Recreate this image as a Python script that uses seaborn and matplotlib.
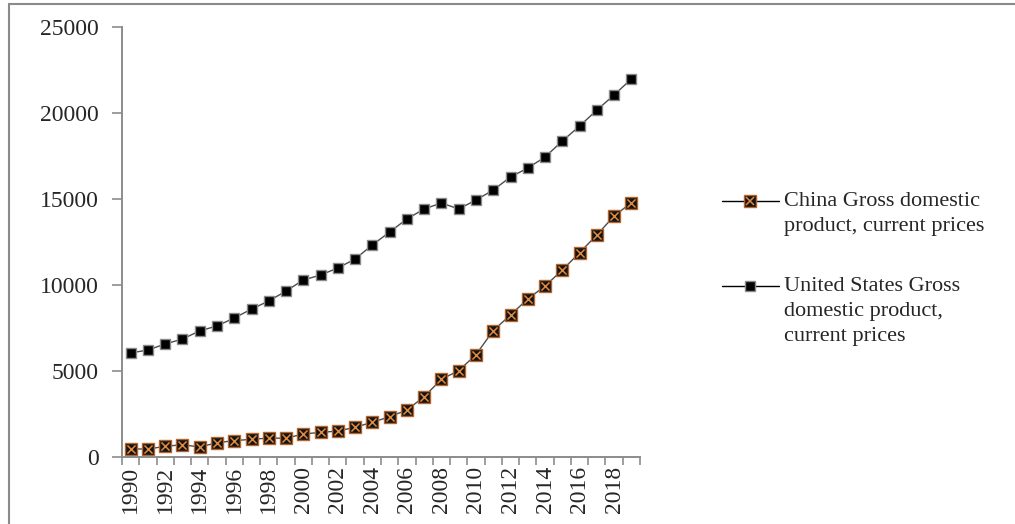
import numpy as np
import pandas as pd
import matplotlib
matplotlib.use("Agg")
import matplotlib.pyplot as plt
import seaborn as sns
from matplotlib.lines import Line2D
from matplotlib.patches import Rectangle
from matplotlib.legend_handler import HandlerLine2D

# Gross domestic product, current prices (billions of US dollars)
years = list(range(1990, 2020))
china_gdp = [465, 465, 620, 715, 580, 830, 950, 1030, 1100, 1090,
             1340, 1430, 1510, 1730, 2020, 2340, 2730, 3510, 4520, 5020,
             5950, 7350, 8260, 9190, 9940, 10870, 11880, 12910, 14010, 14790]
us_gdp = [6050, 6220, 6570, 6860, 7330, 7620, 8080, 8600, 9070, 9650,
          10290, 10580, 10990, 11510, 12330, 13080, 13840, 14420, 14770, 14420,
          14940, 15520, 16280, 16800, 17440, 18370, 19240, 20170, 21050, 21980]
series_labels = ["China Gross domestic\nproduct, current prices",
                 "United States Gross\ndomestic product,\ncurrent prices"]
y_ticks = [0, 5000, 10000, 15000, 20000, 25000]
x_label_years = list(range(1990, 2019, 2))

df = pd.DataFrame({"year": years, "china": china_gdp, "us": us_gdp})

sns.set_theme(style="white")
plt.rcParams["font.family"] = ["Liberation Serif", "DejaVu Serif"]

LINE_C = "#4d4d4d"
ORANGE = "#e0893a"
BROWN = "#b5652a"
TEXT_C = "#262626"

fig = plt.figure(figsize=(10.15, 5.24), dpi=100)
ax = fig.add_axes([122 / 1015, 1 - 457 / 524, (640 - 122) / 1015, (457 - 27) / 524])

# United States series: black squares with a grey rim
sns.lineplot(data=df, x="year", y="us", ax=ax, color=LINE_C, linewidth=1.0,
             marker="s", markersize=7.5, markerfacecolor="black",
             markeredgecolor="#8a8a8a", markeredgewidth=1.0, legend=False)
# China series: black squares with an orange cross
sns.lineplot(data=df, x="year", y="china", ax=ax, color=LINE_C, linewidth=1.0,
             marker="s", markersize=9, markerfacecolor="#141414",
             markeredgecolor=BROWN, markeredgewidth=1.0, legend=False)
sns.scatterplot(data=df, x="year", y="china", ax=ax, marker="x", color=ORANGE,
                s=34, linewidth=1.1, legend=False, zorder=5)

ax.set_xlim(1989.5, 2019.5)
ax.set_ylim(0, 25000)
ax.set_xlabel("")
ax.set_ylabel("")

ax.set_yticks(y_ticks)
ax.set_yticklabels([str(v) for v in y_ticks])
ax.set_xticks(x_label_years)
ax.set_xticklabels([str(v) for v in x_label_years], rotation=90)
ax.set_xticks(np.arange(1989.5, 2020.0, 1.0), minor=True)

for s in ["top", "right"]:
    ax.spines[s].set_visible(False)
for s in ["left", "bottom"]:
    ax.spines[s].set_color("#8c8c8c")
    ax.spines[s].set_linewidth(1.4)

ax.tick_params(axis="y", which="major", length=7, width=1.2, color="#8c8c8c",
               labelsize=17, labelcolor=TEXT_C, pad=10, left=True)
ax.tick_params(axis="x", which="major", length=0, labelsize=17,
               labelcolor=TEXT_C, pad=6.5)
ax.tick_params(axis="x", which="minor", length=6, width=1.2,
               color="#8c8c8c", bottom=True)


class FirstLineHandler(HandlerLine2D):
    """Line handle placed beside the first text line, optionally with a cross."""

    def __init__(self, lift, cross=False, **kw):
        super().__init__(**kw)
        self.lift = lift
        self.cross = cross

    def create_artists(self, legend, orig_handle, xdescent, ydescent,
                       width, height, fontsize, trans):
        arts = super().create_artists(legend, orig_handle, xdescent, ydescent,
                                      width, height, fontsize, trans)
        for a in arts:
            a.set_ydata(np.asarray(a.get_ydata()) + self.lift)
        if self.cross:
            xd = np.asarray(arts[0].get_xdata())
            yd = np.asarray(arts[0].get_ydata())
            xm = [xd[len(xd) // 2]]
            ym = [yd[len(yd) // 2]]
            c = Line2D(xm, ym, linestyle="", marker="x", color=ORANGE,
                       markersize=6, markeredgewidth=1.1)
            c.set_transform(trans)
            arts.append(c)
        return arts


china_h = Line2D([], [], color="black", linewidth=1.0, marker="s",
                 markersize=8, markerfacecolor="#141414",
                 markeredgecolor=BROWN, markeredgewidth=1.0)
us_h = Line2D([], [], color="black", linewidth=1.0, marker="s",
              markersize=6.5, markerfacecolor="black",
              markeredgecolor="#8a8a8a", markeredgewidth=1.0)

# line pitch of the legend text is 18 pt; lift each handle to its first line
leg = fig.legend([china_h, us_h], series_labels,
                 handler_map={china_h: FirstLineHandler(9.0, cross=True),
                              us_h: FirstLineHandler(18.0)},
                 loc="upper left", bbox_to_anchor=(722 / 1015, 1 - 192 / 524),
                 frameon=False, fontsize=16, handlelength=2.55,
                 handletextpad=0.25, labelspacing=1.85, borderpad=0,
                 borderaxespad=0, numpoints=1, labelcolor=TEXT_C)
for t in leg.get_texts():
    t.set_linespacing(1.42)

# outer frame around the chart area
fig.patches.append(Rectangle((9 / 1015, -0.2), 1.2, 1.2 - 4 / 524,
                             transform=fig.transFigure, fill=False,
                             edgecolor="#8a8a8a", linewidth=1.5))

fig.savefig("out.png", dpi=100)
